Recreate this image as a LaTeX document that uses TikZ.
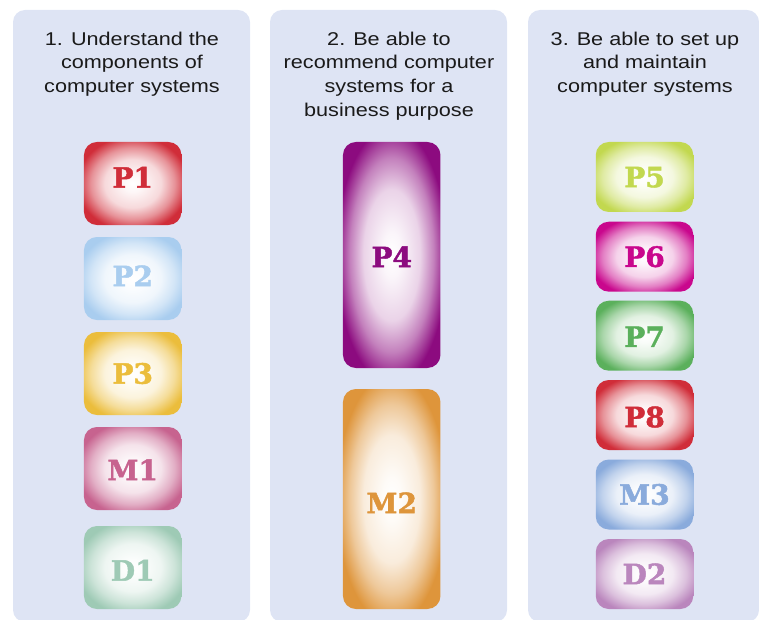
\documentclass[tikz,border=0pt]{standalone}
\usepackage{fontspec}
\newfontfamily\headfont[FakeStretch=1.17]{Liberation Sans}
\newfontfamily\tagfont{DejaVu Serif}[BoldFont={DejaVu Serif Bold}, BoldFeatures={FakeBold=1.6}]

\definecolor{panelbg}{HTML}{DEE4F4}
\definecolor{headink}{HTML}{1A1A1A}

% one radial glow per badge colour: white core fading to the full colour at the rim
% (the rim of the badge sits at about 35bp of the shading radius)
\newcommand\mkglow[2]{%
  \definecolor{c#1}{HTML}{#2}%
  \pgfdeclareradialshading{glow#1}{\pgfpointorigin}{%
    color(0bp)=(white); color(5bp)=(c#1!4!white); color(14.5bp)=(c#1!18!white);
    color(21.5bp)=(c#1!52!white); color(25bp)=(c#1!76!white); color(28.5bp)=(c#1);
    color(50bp)=(c#1)}}
\mkglow{P1}{D02D39}
\mkglow{P2}{A9CDEF}
\mkglow{P3}{EBBD3C}
\mkglow{M1}{C7638F}
\mkglow{D1}{9ECAB5}
\mkglow{P4}{8C0B7F}
\mkglow{M2}{DE953B}
\mkglow{P5}{C2D84F}
\mkglow{P6}{C9078D}
\mkglow{P7}{5BB05C}
\mkglow{P8}{D02D39}
\mkglow{M3}{8AABDC}
\mkglow{D2}{BA86BD}

% shift a badge label up (+) or down (-) from the badge centre
\newcommand\lift[2]{\raisebox{#1}[0pt][0pt]{#2}}

\tikzset{
  panel/.style={fill=panelbg, rounded corners=12pt},
  head/.style={font=\headfont\fontsize{18.5}{23.7}\selectfont, text=headink,
    align=center, anchor=north, inner sep=0pt},
  badge/.style={shade, shading=glow#1, text=c#1, rounded corners=13pt,
    minimum width=97.5pt, inner sep=0pt, text height=20.4pt, text depth=0pt,
    font=\tagfont\bfseries\fontsize{28}{28}\selectfont},
}

\begin{document}
\begin{tikzpicture}[x=1pt,y=-1pt]
\useasboundingbox (0,0) rectangle (759,620);

% column panels
\path[panel] (13,10) rectangle (250,622);
\path[panel] (270,10) rectangle (507,622);
\path[panel] (528,10) rectangle (759,622);

% column headings
\node[head] (h1) at (132,31.5) {1. Understand the\\components of\\computer systems};
\node[head] (h2) at (389,31.5) {2. Be able to\\recommend computer\\systems for a\\business purpose};
\node[head] (h3) at (645,31.5) {3. Be able to set up\\and maintain\\computer systems};

% column 1 criteria
\node[badge=P1, minimum height=83pt] (p1) at (132.7,183.5) {\lift{6pt}{P1}};
\node[badge=P2, minimum height=83pt] (p2) at (132.7,278.5) {\lift{2.5pt}{P2}};
\node[badge=P3, minimum height=83pt] (p3) at (132.7,373.5) {P3};
\node[badge=M1, minimum height=83pt] (m1) at (132.7,468.5) {\lift{-1.5pt}{M1}};
\node[badge=D1, minimum height=83pt] (d1) at (132.7,567.5) {\lift{-3pt}{D1}};

% column 2 criteria
\node[badge=P4, minimum height=226pt] (p4) at (391.7,255) {\lift{-2pt}{P4}};
\node[badge=M2, minimum height=220pt] (m2) at (391.7,499) {\lift{-4pt}{M2}};

% column 3 criteria
\node[badge=P5, minimum height=70pt] (p5) at (644.5,177) {P5};
\node[badge=P6, minimum height=70pt] (p6) at (644.5,256.7) {P6};
\node[badge=P7, minimum height=70pt] (p7) at (644.5,335.7) {\lift{-1pt}{P7}};
\node[badge=P8, minimum height=70pt] (p8) at (644.5,415) {\lift{-2pt}{P8}};
\node[badge=M3, minimum height=70pt] (m3) at (644.5,494.5) {M3};
\node[badge=D2, minimum height=70pt] (d2) at (644.5,574) {D2};
\end{tikzpicture}
\end{document}
